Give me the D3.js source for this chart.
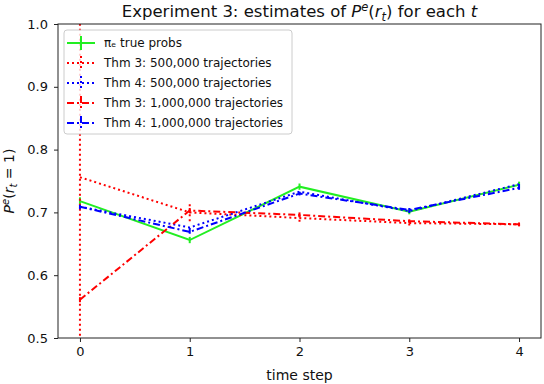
<!DOCTYPE html>
<html>
<head>
<meta charset="utf-8">
<script src="https://cdn.jsdelivr.net/npm/d3@7"></script>
<style>
  body { margin: 0; background: #fff; }
  text { font-family: "DejaVu Sans", sans-serif; fill: #111; }
</style>
</head>
<body>
<script>
// time steps on the x axis
var steps = [0, 1, 2, 3, 4];

// series values and their error bar half-widths
var trueProbs   = [0.718, 0.656, 0.741, 0.701, 0.744];
var trueErr     = [0.006, 0.005, 0.005, 0.004, 0.005];
var thm3Half    = [0.756, 0.700, 0.691, 0.683, 0.681];
var thm3HalfErr = [0.30, 0.014, 0.006, 0.004, 0.003];
var thm4Half    = [0.709, 0.676, 0.733, 0.702, 0.745];
var thm4HalfErr = [0.004, 0.004, 0.004, 0.003, 0.003];
var thm3Full    = [0.561, 0.703, 0.696, 0.686, 0.681];
var thm3FullErr = [0.004, 0.004, 0.004, 0.003, 0.003];
var thm4Full    = [0.709, 0.669, 0.730, 0.704, 0.739];
var thm4FullErr = [0.003, 0.003, 0.003, 0.003, 0.003];

var yTicks = [0.5, 0.6, 0.7, 0.8, 0.9, 1.0];

var series = [
    {name: "true", label: "\u03C0\u2091 true probs", values: trueProbs, err: trueErr, color: "#22ee22", dash: null, width: 2},
    {name: "t3h", label: "Thm 3: 500,000 trajectories", values: thm3Half, err: thm3HalfErr, color: "red", dash: "2,3", width: 2},
    {name: "t4h", label: "Thm 4: 500,000 trajectories", values: thm4Half, err: thm4HalfErr, color: "blue", dash: "2,3", width: 2},
    {name: "t3f", label: "Thm 3: 1,000,000 trajectories", values: thm3Full, err: thm3FullErr, color: "red", dash: "7,3,2,3", width: 2},
    {name: "t4f", label: "Thm 4: 1,000,000 trajectories", values: thm4Full, err: thm4FullErr, color: "blue", dash: "7,3,2,3", width: 2}
];

var margin = {top: 24, right: 3, bottom: 46, left: 58};
var width = 544 - margin.left - margin.right,
    height = 384 - margin.top - margin.bottom;

var svg = d3.select("body")
    .append("svg")
    .attr("width", 544)
    .attr("height", 384);

var g = svg.append("g")
    .attr("transform", "translate(" + margin.left + "," + margin.top + ")");

var x = d3.scaleLinear()
    .domain([-0.2, 4.2])
    .range([0, width]);

var y = d3.scaleLinear()
    .domain([0.5, 1.0])
    .range([height, 0]);

g.append("clipPath").attr("id", "plot-clip")
    .append("rect").attr("width", width).attr("height", height);

// axes
var xAxis = g.append("g")
    .attr("transform", "translate(0," + height + ")")
    .call(d3.axisBottom(x).tickValues(steps).tickFormat(d3.format("d")).tickSize(4).tickPadding(5));
var yAxis = g.append("g")
    .call(d3.axisLeft(y).tickValues(yTicks).tickFormat(d3.format(".1f")).tickSize(4).tickPadding(6));

[xAxis, yAxis].forEach(function(a) {
    a.select(".domain").remove();
    a.selectAll("text").style("font-size", "13px").attr("fill", "#222");
    a.selectAll("line").attr("stroke", "#222");
});

// lines and error bars
var plot = g.append("g").attr("clip-path", "url(#plot-clip)");

var line = d3.line()
    .x(function(d, i) { return x(steps[i]); })
    .y(function(d) { return y(d); });

series.forEach(function(s) {
    var sg = plot.append("g").attr("class", "series " + s.name);
    sg.selectAll("line.err")
        .data(s.values)
        .enter().append("line")
        .attr("class", "err")
        .attr("x1", function(d, i) { return x(steps[i]); })
        .attr("x2", function(d, i) { return x(steps[i]); })
        .attr("y1", function(d, i) { return y(d - s.err[i]); })
        .attr("y2", function(d, i) { return y(d + s.err[i]); })
        .attr("stroke", s.color)
        .attr("stroke-width", s.width)
        .attr("stroke-dasharray", s.dash);
    sg.append("path")
        .datum(s.values)
        .attr("d", line)
        .attr("fill", "none")
        .attr("stroke", s.color)
        .attr("stroke-width", s.width)
        .attr("stroke-dasharray", s.dash);
});

// frame
g.append("rect")
    .attr("width", width)
    .attr("height", height)
    .attr("fill", "none")
    .attr("stroke", "#222")
    .attr("stroke-width", 1);

// legend
var legend = g.append("g").attr("transform", "translate(6,6)");
legend.append("rect")
    .attr("width", 228)
    .attr("height", 104)
    .attr("rx", 3)
    .attr("fill", "white")
    .attr("fill-opacity", 0.8)
    .attr("stroke", "#ccc");

var item = legend.selectAll("g.item")
    .data(series)
    .enter().append("g")
    .attr("class", "item")
    .attr("transform", function(d, i) { return "translate(0," + (13 + i * 20) + ")"; });

item.append("line")
    .attr("x1", 3).attr("x2", 31)
    .attr("stroke", function(d) { return d.color; })
    .attr("stroke-width", 2)
    .attr("stroke-dasharray", function(d) { return d.dash; });
item.append("line")
    .attr("x1", 17).attr("x2", 17).attr("y1", -7).attr("y2", 7)
    .attr("stroke", function(d) { return d.color; })
    .attr("stroke-width", 2)
    .attr("stroke-dasharray", function(d) { return d.dash; });
item.append("text")
    .attr("x", 40)
    .attr("dy", "0.35em")
    .style("font-size", "12px")
    .text(function(d) { return d.label; });

// title
var title = svg.append("text")
    .attr("x", margin.left + width / 2)
    .attr("y", 17)
    .attr("text-anchor", "middle")
    .style("font-size", "16.5px");
title.append("tspan").text("Experiment 3: estimates of ");
title.append("tspan").style("font-style", "italic").text("P");
title.append("tspan").attr("dy", -6).style("font-size", "11.5px").style("font-style", "italic").text("e");
title.append("tspan").attr("dy", 6).text("(");
title.append("tspan").style("font-style", "italic").text("r");
title.append("tspan").attr("dy", 4).style("font-size", "11.5px").style("font-style", "italic").text("t");
title.append("tspan").attr("dy", -4).text(") for each ");
title.append("tspan").style("font-style", "italic").text("t");

// x label
svg.append("text")
    .attr("x", margin.left + width / 2)
    .attr("y", 380)
    .attr("text-anchor", "middle")
    .style("font-size", "14px")
    .text("time step");

// y label
var ylab = svg.append("text")
    .attr("transform", "translate(14," + (margin.top + height / 2) + ") rotate(-90)")
    .attr("text-anchor", "middle")
    .style("font-size", "14px");
ylab.append("tspan").style("font-style", "italic").text("P");
ylab.append("tspan").attr("dy", -5).style("font-size", "10px").style("font-style", "italic").text("e");
ylab.append("tspan").attr("dy", 5).text("(");
ylab.append("tspan").style("font-style", "italic").text("r");
ylab.append("tspan").attr("dy", 3).style("font-size", "10px").style("font-style", "italic").text("t");
ylab.append("tspan").attr("dy", -3).text(" = 1)");
</script>
</body>
</html>
